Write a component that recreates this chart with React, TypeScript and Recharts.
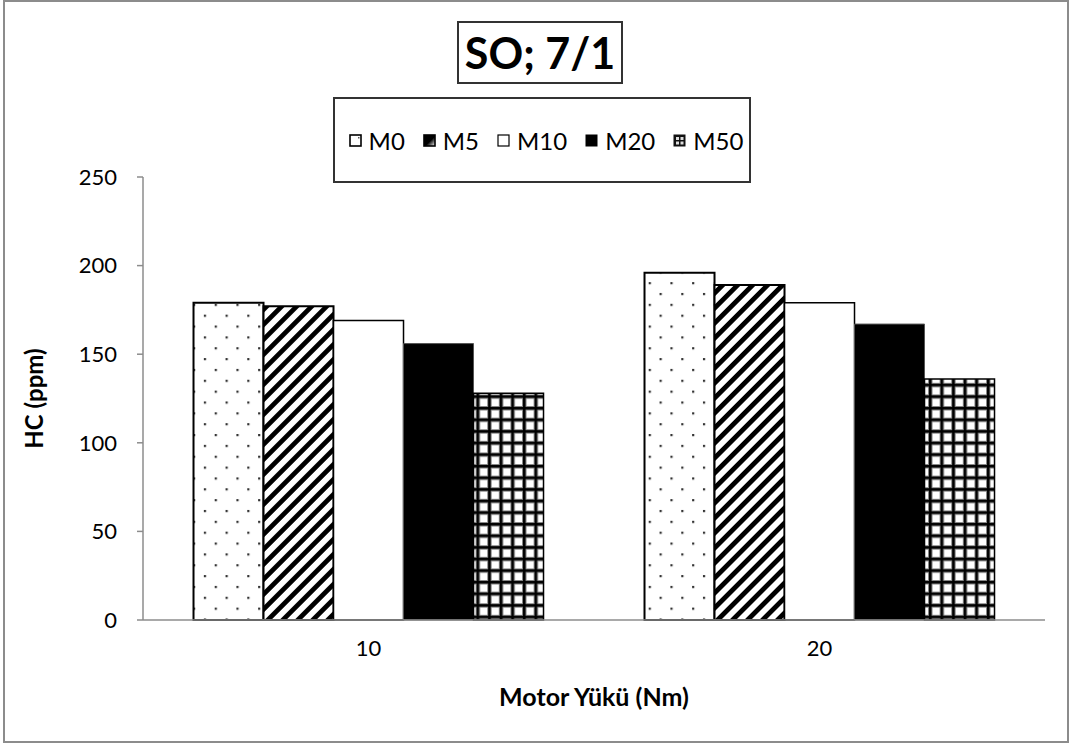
import React from "react";
import { BarChart, Bar, XAxis, YAxis, Legend, Label } from "recharts";

const categories = ["10", "20"];
const m0 = [179, 196];
const m5 = [177, 189];
const m10 = [169, 179];
const m20 = [156, 167];
const m50 = [128, 136];
const yTicks = [0, 50, 100, 150, 200, 250];

const seriesNames = ["M0", "M5", "M10", "M20", "M50"];

const data = categories.map((c, i) => ({
  cat: c,
  M0: m0[i],
  M5: m5[i],
  M10: m10[i],
  M20: m20[i],
  M50: m50[i],
}));

const FONT = "Lato, 'Open Sans', sans-serif";

function LegendIcon({ name }: { name: string }) {
  const s = 13;
  return (
    <svg width={s} height={s} style={{ display: "block" }}>
      <defs>
        <linearGradient id="lg-m5" x1="0" y1="0" x2="1" y2="1">
          <stop offset="0%" stopColor="#000" />
          <stop offset="55%" stopColor="#000" />
          <stop offset="100%" stopColor="#fff" />
        </linearGradient>
      </defs>
      {name === "M0" && (
        <>
          <rect x={1} y={1} width={s - 2} height={s - 2} fill="#fff" stroke="#000" strokeWidth={1.6} />
          <rect x={9} y={3} width={1.5} height={1.5} fill="#555" />
        </>
      )}
      {name === "M5" && (
        <rect x={1} y={1} width={s - 2} height={s - 2} fill="url(#lg-m5)" stroke="#000" strokeWidth={1.6} />
      )}
      {name === "M10" && (
        <rect x={1} y={1} width={s - 2} height={s - 2} fill="#fff" stroke="#000" strokeWidth={1.2} />
      )}
      {name === "M20" && <rect x={0.5} y={0.5} width={s - 1} height={s - 1} fill="#000" />}
      {name === "M50" && (
        <>
          <rect x={0.5} y={0.5} width={s - 1} height={s - 1} fill="#111" />
          <rect x={3} y={3} width={3} height={3} fill="#ddd" />
          <rect x={7.5} y={3} width={3} height={3} fill="#ddd" />
          <rect x={3} y={7.5} width={3} height={3} fill="#ddd" />
          <rect x={7.5} y={7.5} width={3} height={3} fill="#ddd" />
        </>
      )}
    </svg>
  );
}

function LegendBox() {
  return (
    <div
      style={{
        boxSizing: "border-box",
        width: 418,
        height: 86,
        border: "2px solid #333",
        background: "#fff",
        display: "flex",
        alignItems: "center",
        justifyContent: "center",
        paddingLeft: 8,
        fontFamily: FONT,
        fontSize: 24,
        color: "#000",
      }}
    >
      {seriesNames.map((n, i) => (
        <div
          key={n}
          style={{ display: "flex", alignItems: "center", marginLeft: i === 0 ? 0 : 18 }}
        >
          <LegendIcon name={n} />
          <span style={{ marginLeft: 7 }}>{n}</span>
        </div>
      ))}
    </div>
  );
}

export default function App() {
  return (
    <div style={{ position: "absolute", left: 0, top: 0, width: 1073, height: 746, background: "#fff" }}>
      <div
        style={{
          position: "absolute",
          left: 3,
          top: 0,
          width: 1066,
          height: 743,
          boxSizing: "border-box",
          border: "2px solid #8c8c8c",
        }}
      />
      <div
        style={{
          position: "absolute",
          left: 457,
          top: 21,
          width: 166,
          height: 63,
          boxSizing: "border-box",
          border: "2px solid #333",
          display: "flex",
          alignItems: "center",
          justifyContent: "center",
          fontFamily: FONT,
          fontWeight: 700,
          fontSize: 43,
          color: "#000",
        }}
      >
        SO; 7/1
      </div>
      <BarChart
        width={1073}
        height={746}
        data={data}
        margin={{ top: 177, right: 28, bottom: 96, left: 60 }}
        barCategoryGap="11.2%"
        barGap={0}
        style={{ position: "absolute", left: 0, top: 0 }}
      >
        <defs>
          <pattern id="pat-dots" width={21.7} height={21.7} patternUnits="userSpaceOnUse" x={193} y={0}>
            <rect width={21.7} height={21.7} fill="#fff" />
            <rect x={0} y={0} width={2.2} height={2.2} fill="#333" />
            <rect x={10.85} y={10.85} width={2.2} height={2.2} fill="#333" />
          </pattern>
          <pattern
            id="pat-stripes"
            width={10.6}
            height={10.6}
            patternUnits="userSpaceOnUse"
            patternTransform="rotate(45)"
          >
            <rect width={10.6} height={10.6} fill="#fff" />
            <rect x={0} y={0} width={4.8} height={10.6} fill="#000" />
          </pattern>
          <pattern id="pat-grid" width={11.6} height={11.6} patternUnits="userSpaceOnUse">
            <rect width={11.6} height={11.6} fill="#fff" />
            <rect x={0} y={0} width={4.5} height={11.6} fill="#8a8a8a" />
            <rect x={0} y={0} width={11.6} height={4.5} fill="#8a8a8a" />
            <rect x={1} y={0} width={2.5} height={11.6} fill="#000" />
            <rect x={0} y={1} width={11.6} height={2.5} fill="#000" />
          </pattern>
        </defs>
        <XAxis
          dataKey="cat"
          axisLine={{ stroke: "#8c8c8c", strokeWidth: 1.5 }}
          tickLine={false}
          tickMargin={14}
          tick={{ fontSize: 22, fill: "#000", fontFamily: FONT }}
        >
          <Label
            value="Motor Yükü (Nm)"
            position="bottom"
            offset={38}
            style={{ fontSize: 25, fontWeight: 700, fill: "#000", fontFamily: FONT }}
          />
        </XAxis>
        <YAxis
          width={83}
          domain={[0, 250]}
          ticks={yTicks}
          interval={0}
          axisLine={{ stroke: "#8c8c8c", strokeWidth: 1.5 }}
          tickLine={{ stroke: "#8c8c8c", strokeWidth: 1.5 }}
          tickSize={6}
          tickMargin={20}
          tick={{ fontSize: 22, fill: "#000", fontFamily: FONT }}
        >
          <Label
            content={(props: any) => {
              const vb = props.viewBox || {};
              const cx = vb.x - 27;
              const cy = vb.y + vb.height / 2;
              return (
                <text
                  x={cx}
                  y={cy}
                  transform={`rotate(-90, ${cx}, ${cy})`}
                  textAnchor="middle"
                  dominantBaseline="central"
                  style={{ fontSize: 24, fontWeight: 700, fill: "#000", fontFamily: FONT }}
                >
                  HC (ppm)
                </text>
              );
            }}
          />
        </YAxis>
        <Legend
          layout="horizontal"
          verticalAlign="middle"
          wrapperStyle={{ top: 97, left: 333, width: 418, height: 86 }}
          content={() => <LegendBox />}
        />
        <Bar dataKey="M0" fill="url(#pat-dots)" stroke="#000" strokeWidth={2} isAnimationActive={false} />
        <Bar dataKey="M5" fill="url(#pat-stripes)" stroke="#000" strokeWidth={2} isAnimationActive={false} />
        <Bar dataKey="M10" fill="#fff" stroke="#000" strokeWidth={1.5} isAnimationActive={false} />
        <Bar dataKey="M20" fill="#000" stroke="#555" strokeWidth={1} isAnimationActive={false} />
        <Bar dataKey="M50" fill="url(#pat-grid)" stroke="#000" strokeWidth={1.5} isAnimationActive={false} />
      </BarChart>
    </div>
  );
}
